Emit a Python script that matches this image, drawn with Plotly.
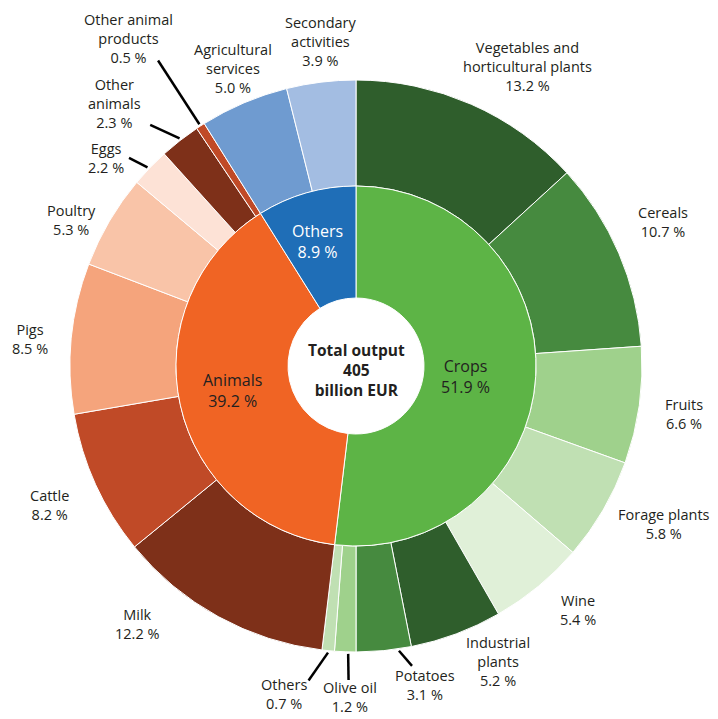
import math
import plotly.graph_objects as go

# ---------------------------------------------------------------------------
# Data — agricultural output, share of total (%)
# ---------------------------------------------------------------------------
GROUPS       = ["Crops", "Animals", "Others"]
GROUP_SHARE  = [51.9, 39.2, 8.9]
GROUP_COLORS = ["#5db446", "#f06424", "#1f6eb7"]

ITEMS = [
    "Vegetables and<br>horticultural plants", "Cereals", "Fruits", "Forage plants",
    "Wine", "Industrial<br>plants", "Potatoes", "Olive oil", "Others",
    "Milk", "Cattle", "Pigs", "Poultry", "Eggs", "Other<br>animals",
    "Other animal<br>products",
    "Agricultural<br>services", "Secondary<br>activities",
]
ITEM_SHARE = [
    13.2, 10.7, 6.6, 5.8, 5.4, 5.2, 3.1, 1.2, 0.7,
    12.2, 8.2, 8.5, 5.3, 2.2, 2.3, 0.5,
    5.0, 3.9,
]
ITEM_COLORS = [
    "#2f5e2c", "#468a3f", "#9fd18c", "#c0e0b3", "#e0f0d8", "#2f5e2c", "#468a3f", "#9fd18c", "#c0e0b3",
    "#7e3019", "#c04a27", "#f5a47c", "#f9c4a8", "#fde2d6", "#7e3019", "#c04a27",
    "#6f9bd0", "#a3bde2",
]

CENTER_TEXT = "<b>Total output<br>405<br>billion EUR</b>"

# ---------------------------------------------------------------------------
# Geometry / style (pixel values are window coordinates)
# ---------------------------------------------------------------------------
PAGE_MARGIN = 8                      # default <body> margin of the html page
W, H = 718 - PAGE_MARGIN, 719 - PAGE_MARGIN
CX, CY = 356, 366
R_OUT, R_MID, R_HOLE = 286, 180, 68
FONT = "Open Sans"
TEXT_COLOR = "#231f20"

# label placement: (angle shift in degrees, radius in px) around the slice mid-angle
OUTER_LABEL_POS = {
    0: (6.1, 345), 1: (-1.9, 339), 2: (0.4, 331), 3: (-3.0, 346), 4: (-2.7, 330),
    5: (-5.1, 328), 6: (-6.6, 326), 7: (-1.2, 331), 8: (6.8, 336), 9: (11.5, 338),
    10: (0.1, 337), 11: (-0.9, 327), 12: (-3.3, 320), 13: (-4.1, 325), 14: (-4.6, 357),
    15: (-1.8, 399), 16: (0.6, 322), 17: (0.8, 326),
}
INNER_LABEL_POS = {0: (1.8, 110), 1: (1.6, 126), 2: (-1.0, 130)}
INNER_TEXT_COLORS = [TEXT_COLOR, TEXT_COLOR, "white"]

# leader lines: index -> (start angle shift, end angle shift, end radius)
LEADERS = {
    6: (-3.0, -5.0, 305), 7: (-0.6, -0.8, 314), 8: (0.0, 3.0, 318),
    13: (-0.3, -1.4, 308), 14: (0.2, -2.5, 317), 15: (0.0, 0.0, 364),
}


def polar(angle_deg, r):
    a = math.radians(angle_deg)
    return CX + r * math.sin(a), CY - r * math.cos(a)


def to_paper(x, y):
    return (x - PAGE_MARGIN) / W, 1 - (y - PAGE_MARGIN) / H


def domain(r):
    x0, y0 = to_paper(CX - r, CY + r)
    x1, y1 = to_paper(CX + r, CY - r)
    return dict(x=[x0, x1], y=[y0, y1])


def mid_angles(shares):
    total = sum(shares)
    out, acc = [], 0.0
    for s in shares:
        out.append((acc + s / 2) / total * 360)
        acc += s
    return out


def label(x, y, text, size, color):
    return dict(
        x=x, y=y, xref="paper", yref="paper", xanchor="center", yanchor="middle",
        showarrow=False, text=text, align="center",
        font=dict(family=FONT, size=size, color=color),
    )


fig = go.Figure()

fig.add_trace(go.Pie(
    labels=ITEMS, values=ITEM_SHARE, sort=False, direction="clockwise", rotation=0,
    hole=R_MID / R_OUT, domain=domain(R_OUT), textinfo="none", showlegend=False,
    marker=dict(colors=ITEM_COLORS, line=dict(color="white", width=1)),
))
fig.add_trace(go.Pie(
    labels=GROUPS, values=GROUP_SHARE, sort=False, direction="clockwise", rotation=0,
    hole=R_HOLE / R_MID, domain=domain(R_MID), textinfo="none", showlegend=False,
    marker=dict(colors=GROUP_COLORS, line=dict(color="white", width=1)),
))

annotations = []
shapes = []

for i, (name, share, ang) in enumerate(zip(ITEMS, ITEM_SHARE, mid_angles(ITEM_SHARE))):
    dA, r = OUTER_LABEL_POS[i]
    x, y = to_paper(*polar(ang + dA, r))
    annotations.append(label(x, y, f"{name}<br>{share:.1f} %", 14.5, TEXT_COLOR))
    if i in LEADERS:
        s0, s1, r1 = LEADERS[i]
        x0, y0 = to_paper(*polar(ang + s0, R_OUT + 2))
        x1, y1 = to_paper(*polar(ang + s1, r1))
        shapes.append(dict(type="line", xref="paper", yref="paper",
                           x0=x0, y0=y0, x1=x1, y1=y1,
                           line=dict(color="black", width=2.5)))

for i, (name, share, ang) in enumerate(zip(GROUPS, GROUP_SHARE, mid_angles(GROUP_SHARE))):
    dA, r = INNER_LABEL_POS[i]
    x, y = to_paper(*polar(ang + dA, r))
    annotations.append(label(x, y, f"{name}<br>{share:.1f} %", 16, INNER_TEXT_COLORS[i]))

cx, cy = to_paper(CX, CY + 4)
annotations.append(label(cx, cy, CENTER_TEXT, 15.5, TEXT_COLOR))

fig.update_layout(
    width=W, height=H,
    margin=dict(l=0, r=0, t=0, b=0),
    paper_bgcolor="white", plot_bgcolor="white",
    annotations=annotations, shapes=shapes,
)

fig.write_html("out.html")
